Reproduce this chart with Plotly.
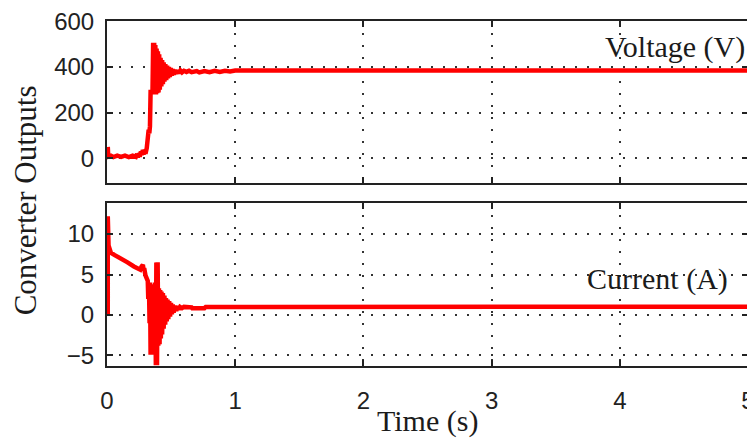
import plotly.graph_objects as go

# ---- data ----
volt_t = [0.006, 0.010, 0.030, 0.050, 0.080, 0.110, 0.140, 0.170, 0.200, 0.225, 0.235, 0.240, 0.250,
          0.255, 0.265, 0.270, 0.280, 0.285, 0.295, 0.300, 0.310, 0.315, 0.320, 0.325, 0.330, 0.335,
          0.340, 0.350, 0.355, 0.360, 0.364, 0.368, 0.372, 0.377, 0.382, 0.387, 0.392, 0.397, 0.402,
          0.407, 0.412, 0.418, 0.424, 0.430, 0.436, 0.442, 0.448, 0.455, 0.462, 0.469, 0.476, 0.483,
          0.490, 0.498, 0.506, 0.514, 0.522, 0.531, 0.540, 0.550, 0.560, 0.572, 0.585, 0.600, 0.620,
          0.640, 0.660, 0.700, 0.720, 0.760, 0.800, 0.840, 0.880, 0.920, 0.960, 1.000, 5.000]
volt_v = [50, 8, 12, 6, 12, 7, 12, 6, 12, 7, 20, 5, 22,
          8, 30, 15, 36, 18, 38, 20, 45, 80, 60, 125, 110, 140,
          290, 290, 295, 505, 285, 505, 280, 495, 280, 480, 285, 468, 288,
          455, 300, 440, 315, 430, 325, 420, 335, 412, 342, 405, 350, 400,
          356, 395, 362, 390, 366, 387, 370, 385, 373, 384, 376, 383, 378,
          383, 377, 382, 376, 382, 377, 383, 378, 383, 380, 384, 384]

curr_t = [0.006, 0.006, 0.012, 0.020, 0.030, 0.060, 0.110, 0.160, 0.210, 0.260, 0.270, 0.280,
          0.285, 0.290, 0.300, 0.310, 0.318, 0.322, 0.327, 0.332, 0.336, 0.340, 0.345, 0.350,
          0.355, 0.360, 0.365, 0.370, 0.376, 0.381, 0.385, 0.390, 0.395, 0.400, 0.405, 0.410,
          0.415, 0.420, 0.425, 0.430, 0.436, 0.442, 0.448, 0.454, 0.460, 0.466, 0.472, 0.478,
          0.485, 0.492, 0.499, 0.506, 0.513, 0.520, 0.530, 0.540, 0.550, 0.560, 0.570, 0.585,
          0.600, 0.660, 0.665, 0.760, 0.770, 5.000]
curr_i = [0.0, 12.2, 8.6, 8.2, 7.7, 7.4, 7.0, 6.5, 6.0, 5.6, 6.0, 6.2,
          5.6, 5.8, 4.9, 4.6, 4.2, 2.0, 4.0, -1.0, 4.0, -4.9, 3.8, -4.9,
          3.6, -4.0, 3.5, -4.5, 4.0, -6.2, 6.5, -6.2, 6.5, -3.8, 3.3, -3.6,
          3.1, -2.9, 2.9, -2.4, 2.7, -1.7, 2.4, -1.2, 2.1, -0.8, 1.9, -0.5,
          1.7, -0.2, 1.5, 0.1, 1.3, 0.3, 1.15, 0.5, 1.1, 0.7, 1.0, 0.85,
          1.0, 0.95, 0.85, 0.85, 1.0, 1.03]

x_ticks = [0, 1, 2, 3, 4, 5]
volt_ticks = [0, 200, 400, 600]
curr_ticks = [-5, 0, 5, 10]

RED = "#ff0000"
INK = "#222222"
TEXT = "#1b1b1b"
SERIF = "Liberation Serif, Times New Roman, serif"
SANS = "Liberation Sans, Arial, sans-serif"

fig = go.Figure()
fig.add_trace(go.Scatter(x=volt_t, y=volt_v, mode="lines", line=dict(color=RED, width=4.5),
                         xaxis="x", yaxis="y", showlegend=False))
fig.add_trace(go.Scatter(x=curr_t, y=curr_i, mode="lines", line=dict(color=RED, width=4.5),
                         xaxis="x2", yaxis="y2", showlegend=False))

common = dict(showline=True, linecolor=INK, linewidth=2, mirror="allticks",
              ticks="inside", ticklen=6, tickwidth=2, tickcolor=INK, automargin=False,
              showgrid=True, gridcolor="#333333", gridwidth=2, griddash="2px,10px",
              zeroline=False, ticklabeloverflow="allow",
              tickfont=dict(family=SANS, size=24, color=INK))

# the page body adds an 8px offset, so the figure is sized to the remaining area
fig.update_layout(
    width=747, height=433,
    margin=dict(l=99, r=7, t=13, b=75),
    paper_bgcolor="white", plot_bgcolor="white",
    xaxis=dict(domain=[0, 1], range=[0, 5], tickvals=x_ticks, showticklabels=False,
               anchor="y", **common),
    yaxis=dict(domain=[0.530, 1], range=[-108, 600.5], tickvals=volt_ticks,
               ticklabelstandoff=6, anchor="x", **common),
    xaxis2=dict(domain=[0, 1], range=[0, 5], tickvals=x_ticks, anchor="y2",
                ticklabelstandoff=12, **common),
    yaxis2=dict(domain=[0, 0.4716], range=[-6.3, 13.8], tickvals=curr_ticks,
                ticklabelstandoff=6, anchor="x2", **common),
    annotations=[
        dict(text="Time (s)", xref="paper", yref="paper", x=0.4995, y=-0.159,
             xanchor="center", yanchor="middle", showarrow=False,
             font=dict(family=SERIF, size=30, color=TEXT)),
        dict(text="Converter Outputs", xref="paper", yref="paper", x=-0.128, y=0.48,
             xanchor="center", yanchor="middle", showarrow=False, textangle=-90,
             font=dict(family=SERIF, size=31, color=TEXT)),
        dict(text="Voltage (V)", xref="paper", yref="paper", x=0.998, y=0.925,
             xanchor="right", yanchor="middle", showarrow=False,
             font=dict(family=SERIF, size=30, color=TEXT)),
        dict(text="Current (A)", xref="paper", yref="paper", x=0.972, y=0.253,
             xanchor="right", yanchor="middle", showarrow=False,
             font=dict(family=SERIF, size=30, color=TEXT)),
    ],
)

fig.write_html("out.html")
